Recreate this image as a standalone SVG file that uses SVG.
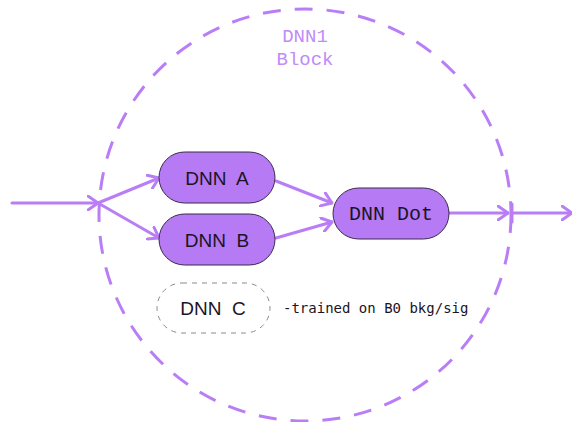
<svg xmlns="http://www.w3.org/2000/svg" width="572" height="422" viewBox="0 0 572 422">
<defs>
<style>
.edge{fill:none;stroke:#b97ef6;stroke-width:3;stroke-linecap:round}
.node{fill:#b57af4;stroke:#3b2a4a;stroke-width:1}
.lbl{font-family:"Liberation Sans",Arial,sans-serif;font-size:19px;fill:#1c1424;text-anchor:middle}
.mono{font-family:"Liberation Mono","DejaVu Sans Mono",monospace}
</style>
<marker id="arr" viewBox="0 0 12 16" refX="11" refY="8" markerWidth="12" markerHeight="16" markerUnits="userSpaceOnUse" orient="auto">
<path d="M1,1 L11,8 L1,15" fill="none" stroke="#b97ef6" stroke-width="3" stroke-linecap="round" stroke-linejoin="round"/>
</marker>
</defs>
<rect width="572" height="422" fill="#ffffff"/>
<g id="block">
<circle cx="305" cy="215" r="206" fill="none" stroke="#b97ef6" stroke-width="3" stroke-dasharray="18 14"/>
<text class="mono" x="305" y="42" text-anchor="middle" font-size="19" fill="#c08cf7">DNN1</text>
<text class="mono" x="305" y="65" text-anchor="middle" font-size="19" fill="#c08cf7">Block</text>
</g>
<g id="connectors">
<line class="edge" x1="12" y1="203" x2="98" y2="203" marker-end="url(#arr)"/>
<line class="edge" x1="98" y1="203" x2="159" y2="178" marker-end="url(#arr)"/>
<line class="edge" x1="98" y1="203" x2="159" y2="238" marker-end="url(#arr)"/>
<line class="edge" x1="276" y1="181" x2="332" y2="203" marker-end="url(#arr)"/>
<line class="edge" x1="276" y1="238" x2="332" y2="222" marker-end="url(#arr)"/>
<line class="edge" x1="449" y1="213" x2="508" y2="213" marker-end="url(#arr)"/>
<line class="edge" x1="512" y1="204" x2="512" y2="222"/>
<line class="edge" x1="512" y1="213" x2="572" y2="213" marker-end="url(#arr)"/>
</g>
<g id="dnnA">
<rect class="node" x="159" y="152" width="116" height="51" rx="25.5"/>
<text class="lbl" x="217" y="185" xml:space="preserve">DNN  A</text>
</g>
<g id="dnnB">
<rect class="node" x="159" y="214" width="116" height="51" rx="25.5"/>
<text class="lbl" x="217" y="247" xml:space="preserve">DNN  B</text>
</g>
<g id="dnnDot">
<rect class="node" x="333" y="188" width="116" height="51" rx="25.5"/>
<text class="mono" x="391" y="220" text-anchor="middle" font-size="20" fill="#1c1424">DNN Dot</text>
</g>
<g id="dnnC">
<rect x="157" y="283" width="113" height="50" rx="25" fill="none" stroke="#8a8a8a" stroke-width="1" stroke-dasharray="5 5"/>
<text class="lbl" x="213" y="315" xml:space="preserve">DNN  C</text>
</g>
<g id="note">
<text x="283" y="313" font-family="'DejaVu Sans Mono','Liberation Mono',monospace" font-size="14" fill="#1c1424">-trained on B0 bkg/sig</text>
</g>
</svg>
